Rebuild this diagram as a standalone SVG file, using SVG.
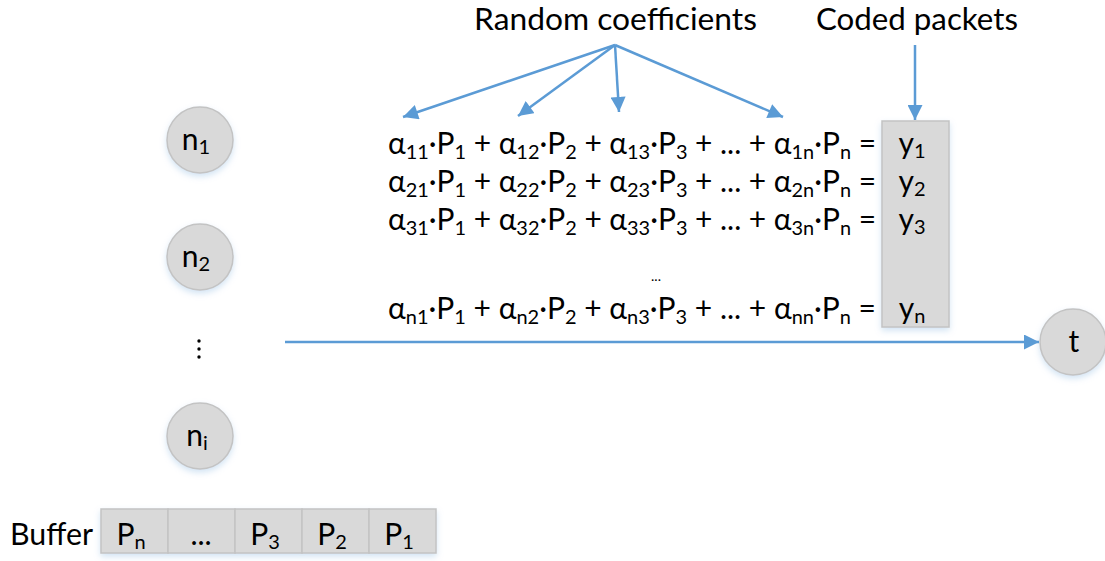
<svg xmlns="http://www.w3.org/2000/svg" width="1105" height="561" viewBox="0 0 1105 561">
  <defs>
    <style>
      text { font-family: Lato, "Open Sans", sans-serif; fill: #000; }
      .node { fill: #d9d9d9; stroke: #c3c3c3; stroke-width: 1.5; filter: url(#soft); }
      .cell { fill: #d9d9d9; stroke: #c3c3c3; stroke-width: 1.5; }
      .lbl { font-size: 30px; text-anchor: middle; }
      .eq { font-size: 30px; }
      .title { font-size: 30px; }
      .s { font-size: 20px; }
      .wire { stroke: #5b9bd5; stroke-width: 2.5; fill: none; marker-end: url(#head); }
    </style>
    <filter id="soft" x="-30%" y="-30%" width="160%" height="170%">
      <feDropShadow dx="0" dy="3" stdDeviation="3" flood-color="#9dc3e6" flood-opacity="0.45"/>
    </filter>
    <marker id="head" viewBox="0 0 10 10" refX="10" refY="5" markerWidth="6.3" markerHeight="6" orient="auto" markerUnits="strokeWidth">
      <path d="M0,0 L10,5 L0,10 Z" fill="#5b9bd5"/>
    </marker>
  </defs>

  <!-- headings -->
  <text class="title" x="474" y="30" textLength="283" lengthAdjust="spacingAndGlyphs">Random coefficients</text>
  <text class="title" x="816" y="30" textLength="202" lengthAdjust="spacingAndGlyphs">Coded packets</text>

  <!-- source nodes -->
  <g id="n1">
    <circle class="node" cx="200" cy="140" r="33"/>
    <text class="lbl" x="196" y="150">n<tspan class="s" dy="4">1</tspan></text>
  </g>
  <g id="n2">
    <circle class="node" cx="200" cy="257" r="33"/>
    <text class="lbl" x="196" y="267">n<tspan class="s" dy="4">2</tspan></text>
  </g>
  <g id="vdots">
    <circle cx="199" cy="341" r="1.7" fill="#000"/>
    <circle cx="199" cy="349" r="1.7" fill="#000"/>
    <circle cx="199" cy="357" r="1.7" fill="#000"/>
  </g>
  <g id="ni">
    <circle class="node" cx="200" cy="436" r="33"/>
    <text class="lbl" x="197" y="446">n<tspan class="s" dy="4">i</tspan></text>
  </g>

  <!-- sink node -->
  <g id="t">
    <circle class="node" cx="1073" cy="342" r="33"/>
    <text class="lbl" x="1074" y="352">t</text>
  </g>

  <!-- coded packets column -->
  <g id="coded">
    <rect class="node" x="882" y="121" width="67" height="206"/>
    <text class="lbl" x="912" y="154">y<tspan class="s" dy="4">1</tspan></text>
    <text class="lbl" x="912" y="192">y<tspan class="s" dy="4">2</tspan></text>
    <text class="lbl" x="912" y="230">y<tspan class="s" dy="4">3</tspan></text>
    <text class="lbl" x="912" y="319">y<tspan class="s" dy="4">n</tspan></text>
  </g>

  <!-- linear combinations -->
  <g id="equations">
    <text class="eq" x="388" y="154" textLength="488" lengthAdjust="spacingAndGlyphs">α<tspan class="s" dy="5">11</tspan><tspan dy="-5">·P</tspan><tspan class="s" dy="5">1</tspan><tspan dy="-5"> + α</tspan><tspan class="s" dy="5">12</tspan><tspan dy="-5">·P</tspan><tspan class="s" dy="5">2</tspan><tspan dy="-5"> + α</tspan><tspan class="s" dy="5">13</tspan><tspan dy="-5">·P</tspan><tspan class="s" dy="5">3</tspan><tspan dy="-5"> + ... + α</tspan><tspan class="s" dy="5">1n</tspan><tspan dy="-5">·P</tspan><tspan class="s" dy="5">n</tspan><tspan dy="-5"> =</tspan></text>
    <text class="eq" x="388" y="192" textLength="488" lengthAdjust="spacingAndGlyphs">α<tspan class="s" dy="5">21</tspan><tspan dy="-5">·P</tspan><tspan class="s" dy="5">1</tspan><tspan dy="-5"> + α</tspan><tspan class="s" dy="5">22</tspan><tspan dy="-5">·P</tspan><tspan class="s" dy="5">2</tspan><tspan dy="-5"> + α</tspan><tspan class="s" dy="5">23</tspan><tspan dy="-5">·P</tspan><tspan class="s" dy="5">3</tspan><tspan dy="-5"> + ... + α</tspan><tspan class="s" dy="5">2n</tspan><tspan dy="-5">·P</tspan><tspan class="s" dy="5">n</tspan><tspan dy="-5"> =</tspan></text>
    <text class="eq" x="388" y="230" textLength="488" lengthAdjust="spacingAndGlyphs">α<tspan class="s" dy="5">31</tspan><tspan dy="-5">·P</tspan><tspan class="s" dy="5">1</tspan><tspan dy="-5"> + α</tspan><tspan class="s" dy="5">32</tspan><tspan dy="-5">·P</tspan><tspan class="s" dy="5">2</tspan><tspan dy="-5"> + α</tspan><tspan class="s" dy="5">33</tspan><tspan dy="-5">·P</tspan><tspan class="s" dy="5">3</tspan><tspan dy="-5"> + ... + α</tspan><tspan class="s" dy="5">3n</tspan><tspan dy="-5">·P</tspan><tspan class="s" dy="5">n</tspan><tspan dy="-5"> =</tspan></text>
    <text x="656" y="281" font-size="14" text-anchor="middle">...</text>
    <text class="eq" x="388" y="319" textLength="488" lengthAdjust="spacingAndGlyphs">α<tspan class="s" dy="5">n1</tspan><tspan dy="-5">·P</tspan><tspan class="s" dy="5">1</tspan><tspan dy="-5"> + α</tspan><tspan class="s" dy="5">n2</tspan><tspan dy="-5">·P</tspan><tspan class="s" dy="5">2</tspan><tspan dy="-5"> + α</tspan><tspan class="s" dy="5">n3</tspan><tspan dy="-5">·P</tspan><tspan class="s" dy="5">3</tspan><tspan dy="-5"> + ... + α</tspan><tspan class="s" dy="5">nn</tspan><tspan dy="-5">·P</tspan><tspan class="s" dy="5">n</tspan><tspan dy="-5"> =</tspan></text>
  </g>

  <!-- buffer -->
  <g id="buffer">
    <text class="eq" x="10" y="545" textLength="83" lengthAdjust="spacingAndGlyphs">Buffer</text>
    <g filter="url(#soft)">
      <rect class="cell" x="101" y="509" width="67" height="44"/>
      <rect class="cell" x="168" y="509" width="67" height="44"/>
      <rect class="cell" x="235" y="509" width="67" height="44"/>
      <rect class="cell" x="302" y="509" width="67" height="44"/>
      <rect class="cell" x="369" y="509" width="67" height="44"/>
    </g>
    <text class="lbl" x="131" y="545">P<tspan class="s" dy="4">n</tspan></text>
    <text class="lbl" x="201" y="545">...</text>
    <text class="lbl" x="265" y="545">P<tspan class="s" dy="4">3</tspan></text>
    <text class="lbl" x="332" y="545">P<tspan class="s" dy="4">2</tspan></text>
    <text class="lbl" x="399" y="545">P<tspan class="s" dy="4">1</tspan></text>
  </g>

  <!-- connectors -->
  <g id="connectors">
    <line class="wire" x1="615" y1="45" x2="403" y2="117"/>
    <line class="wire" x1="615" y1="45" x2="518" y2="116"/>
    <line class="wire" x1="615" y1="45" x2="619" y2="112"/>
    <line class="wire" x1="615" y1="45" x2="783" y2="117"/>
    <line class="wire" x1="915" y1="45" x2="915" y2="120"/>
    <line class="wire" x1="285" y1="342" x2="1039" y2="342"/>
  </g>
</svg>
